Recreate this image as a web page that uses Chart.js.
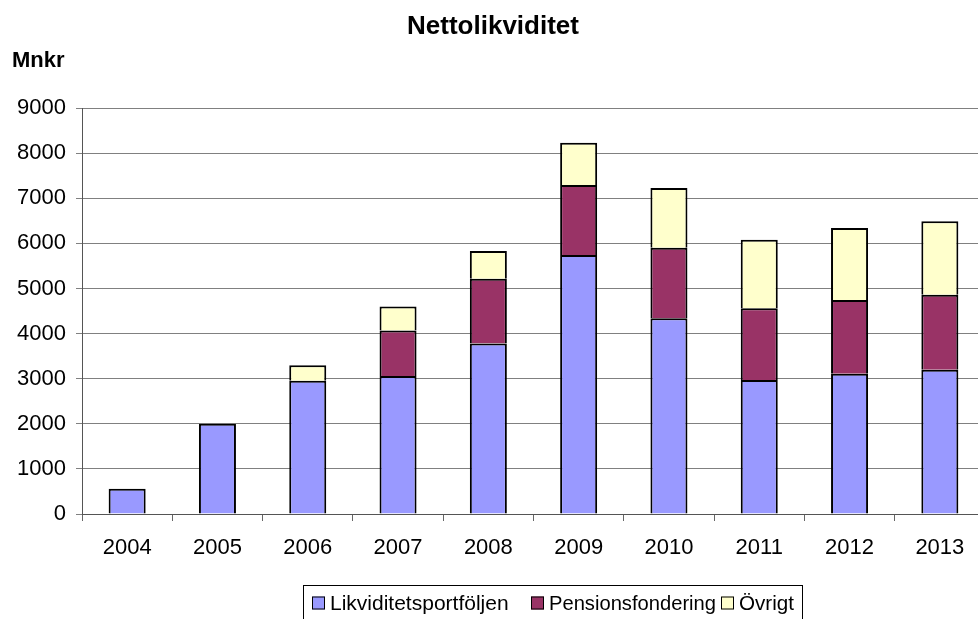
<!DOCTYPE html>
<html>
<head>
<meta charset="utf-8">
<script src="https://cdn.jsdelivr.net/npm/chart.js@4"></script>
<style>
  html, body { margin: 0; padding: 0; background: #fff; overflow: hidden; }
  #wrap { width: 1000px; height: 619px; }
</style>
</head>
<body>
<div id="wrap"><canvas id="chart" width="1000" height="619"></canvas></div>
<script>
const years = ['2004', '2005', '2006', '2007', '2008', '2009', '2010', '2011', '2012', '2013'];
const likviditet = [560, 2000, 2955, 3060, 3780, 5740, 4340, 2970, 3110, 3200];
const pension = [null, null, null, 1005, 1435, 1555, 1560, 1590, 1635, 1660];
const ovrigt = [null, null, 345, 535, 615, 935, 1325, 1520, 1595, 1630];
const seriesNames = ['Likviditetsportföljen', 'Pensionsfondering', 'Övrigt'];
const yTicks = [0, 1000, 2000, 3000, 4000, 5000, 6000, 7000, 8000, 9000];

const FONT = '"Liberation Sans", Arial, sans-serif';

// title, unit label and boxed legend
const decorations = {
    id: 'decorations',
    afterDraw(chart) {
        const ctx = chart.ctx;
        ctx.save();
        ctx.fillStyle = '#000';
        ctx.textBaseline = 'middle';
        ctx.textAlign = 'center';
        ctx.font = 'bold 26px ' + FONT;
        ctx.fillText('Nettolikviditet', 493, 27);
        ctx.textAlign = 'left';
        ctx.font = 'bold 22px ' + FONT;
        ctx.fillText('Mnkr', 12, 61);

        // legend
        ctx.strokeStyle = '#000';
        ctx.lineWidth = 1;
        ctx.strokeRect(303.5, 585.5, 499, 50);
        ctx.font = '21px ' + FONT;
        const boxX = [312, 531, 721];
        const textW = [184, 167, 55];
        const cy = 603;
        chart.data.datasets.forEach((ds, i) => {
            const x = boxX[i];
            ctx.fillStyle = ds.backgroundColor;
            ctx.fillRect(x, cy - 6.5, 13, 13);
            ctx.strokeRect(x + 0.5, cy - 6, 12, 12);
            ctx.fillStyle = '#000';
            ctx.fillText(ds.label, x + 18, cy + 1, textW[i]);
        });
        ctx.restore();
    }
};

new Chart(document.getElementById('chart'), {
    type: 'bar',
    data: {
        labels: years,
        datasets: [
            { label: seriesNames[0], data: likviditet, backgroundColor: '#9999FF' },
            { label: seriesNames[1], data: pension, backgroundColor: '#993366' },
            { label: seriesNames[2], data: ovrigt, backgroundColor: '#FFFFCC' }
        ].map(d => Object.assign(d, {
            borderColor: '#000',
            borderWidth: 2,
            barPercentage: 0.41,
            categoryPercentage: 1
        }))
    },
    options: {
        responsive: false,
        animation: false,
        devicePixelRatio: 1,
        layout: { padding: { top: 108, right: 15, left: 0, bottom: 0 } },
        plugins: {
            legend: { display: false },
            tooltip: { enabled: false }
        },
        scales: {
            x: {
                stacked: true,
                afterFit: s => { s.height = 105; },
                grid: { offset: true, drawOnChartArea: false, tickLength: 7, color: '#666' },
                border: { color: '#555', width: 1 },
                ticks: { color: '#000', font: { family: FONT, size: 22 }, padding: 14 }
            },
            y: {
                stacked: true,
                min: 0,
                max: 9000,
                afterFit: s => { s.width = 82; },
                afterBuildTicks: s => { s.ticks = yTicks.map(v => ({ value: v })); },
                grid: { color: '#808080', tickLength: 6 },
                border: { color: '#555', width: 1 },
                ticks: {
                    color: '#000',
                    font: { family: FONT, size: 22 },
                    padding: 10,
                    callback: v => String(v)
                }
            }
        }
    },
    plugins: [decorations]
});
</script>
</body>
</html>
